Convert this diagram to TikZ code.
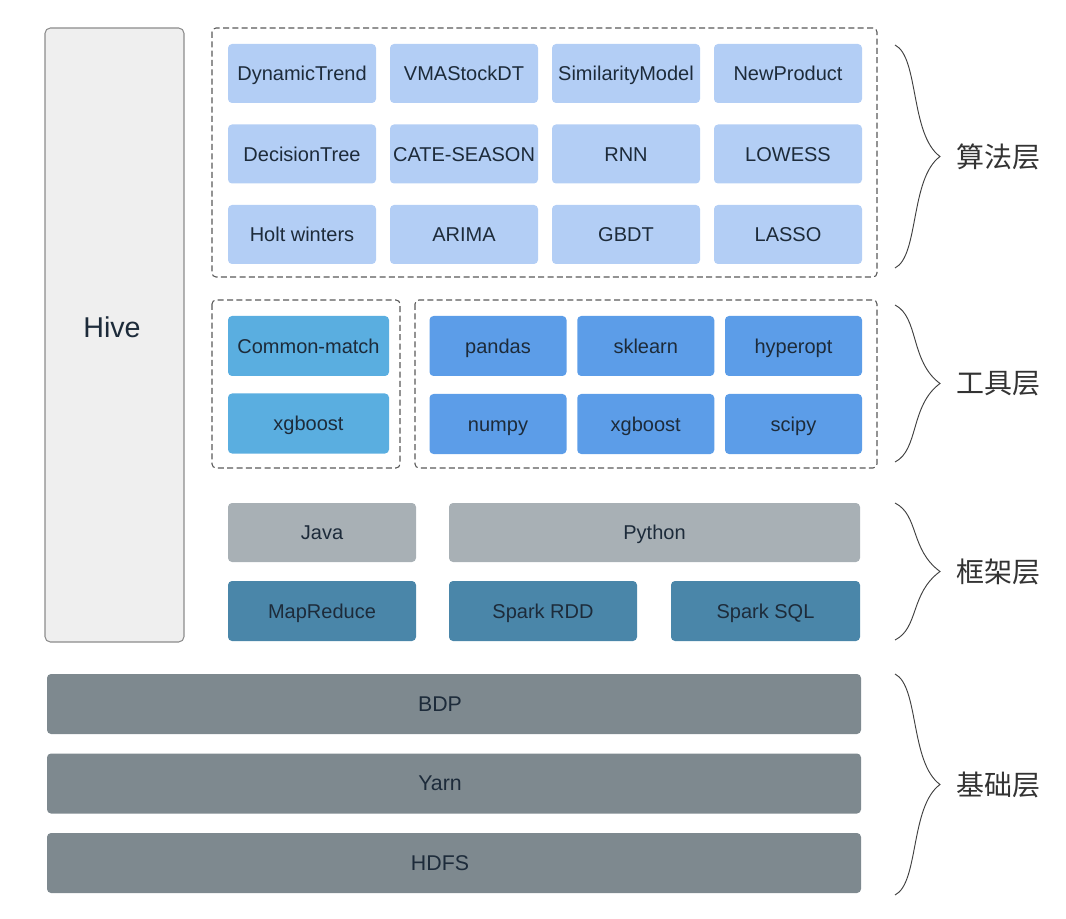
\documentclass[tikz,border=0pt]{standalone}
\usepackage{fontspec}
\setmainfont{Liberation Sans}
\newfontfamily\cjk{Noto Sans CJK SC}
\usetikzlibrary{calc}

\definecolor{algoblue}{HTML}{B3CEF5}
\definecolor{cmblue}{HTML}{5AAEE0}
\definecolor{toolblue}{HTML}{5C9DE8}
\definecolor{langgray}{HTML}{A8B0B5}
\definecolor{engblue}{HTML}{4A86A9}
\definecolor{basegray}{HTML}{7E898F}
\definecolor{hivegray}{HTML}{EFEFEF}
\definecolor{txt}{HTML}{1D2B3A}

\tikzset{
  blk/.style 2 args={rounded corners=3pt, inner sep=0pt, text=txt,
    font=\fontsize{15}{18}\selectfont, text height=10.6pt, text depth=0pt,
    minimum width=#1*0.75pt, minimum height=#2*0.75pt},
  layerbox/.style={draw=black!65, dash pattern=on 4.5pt off 2.5pt,
    rounded corners=3pt, line width=0.8pt},
  bracelabel/.style={anchor=west, font=\cjk\fontsize{21}{24}\selectfont, text=black!80}
}

% curly brace from top to bottom at the right side, label at its tip
\newcommand\layerbrace[4]{%
  \coordinate (#4t) at (895,#1);
  \coordinate (#4b) at (895,#2);
  \coordinate (#4m) at ($(#4t)!0.5!(#4b) + (45,0)$);
  \draw[line width=0.7pt, black!75] (#4t) .. controls ($(#4t)+(24,12)$) and ($(#4m)+(-30,-22)$) .. (#4m)
        .. controls ($(#4m)+(-30,22)$) and ($(#4b)+(24,-12)$) .. (#4b);
  \node[bracelabel] (#4lbl) at ($(#4m)+(12,0)$) {#3};
}

\begin{document}
\begin{tikzpicture}[x=0.75pt, y=-0.75pt]
\useasboundingbox (0,0) rectangle (1066,919);

% Hive column
\draw[draw=gray!90, fill=hivegray, line width=0.8pt, rounded corners=4pt] (45,28) rectangle (184,642);
\node[text=txt, font=\fontsize{21.5}{24}\selectfont] (hive) at (112,327) {Hive};

% algorithm layer
\draw[layerbox] (212,28) rectangle (877,277);
\foreach \lbl [count=\i from 0] in {DynamicTrend,VMAStockDT,SimilarityModel,NewProduct,
    DecisionTree,CATE-SEASON,RNN,LOWESS,Holt winters,ARIMA,GBDT,LASSO} {
  \pgfmathtruncatemacro\col{mod(\i,4)}
  \pgfmathtruncatemacro\row{\i/4}
  \node[blk={148}{59}, fill=algoblue] (algo\i) at ({302+162*\col},{73.5+80.5*\row}) {\lbl};
}

% tool layer
\draw[layerbox] (212,300) rectangle (400,468);
\draw[layerbox] (415,300) rectangle (877,468);
\node[blk={161}{60}, fill=cmblue] (cmatch) at (308.5,346) {Common-match};
\node[blk={161}{60}, fill=cmblue] (xgb1) at (308.5,423.5) {xgboost};
\foreach \lbl [count=\i from 0] in {pandas,sklearn,hyperopt,numpy,xgboost,scipy} {
  \pgfmathtruncatemacro\col{mod(\i,3)}
  \pgfmathtruncatemacro\row{\i/3}
  \node[blk={137}{60}, fill=toolblue] (tool\i) at ({498+147.75*\col},{346+78*\row}) {\lbl};
}

% framework layer
\node[blk={188}{59}, fill=langgray] (java) at (322,532.5) {Java};
\node[blk={411}{59}, fill=langgray] (python) at (654.5,532.5) {Python};
\node[blk={188}{60}, fill=engblue] (mapred) at (322,611) {MapReduce};
\node[blk={188}{60}, fill=engblue] (sparkrdd) at (543,611) {Spark RDD};
\node[blk={189}{60}, fill=engblue] (sparksql) at (765.5,611) {Spark SQL};

% base layer (text sits a little left of centre)
\foreach \nm/\lbl/\y in {bdp/BDP/704,yarn/Yarn/783.5,hdfs/HDFS/863} {
  \node[blk={814}{60}, fill=basegray] (\nm) at (454,\y) {};
  \node[text=txt, font=\fontsize{16}{18}\selectfont, inner sep=0pt, text height=11pt, text depth=0pt]
    (\nm txt) at ($(\nm)+(-14,0)$) {\lbl};
}

% braces
\layerbrace{45}{268}{算法层}{algo}
\layerbrace{305}{462}{工具层}{tool}
\layerbrace{503}{640}{框架层}{frame}
\layerbrace{674}{895}{基础层}{base}

\end{tikzpicture}
\end{document}
